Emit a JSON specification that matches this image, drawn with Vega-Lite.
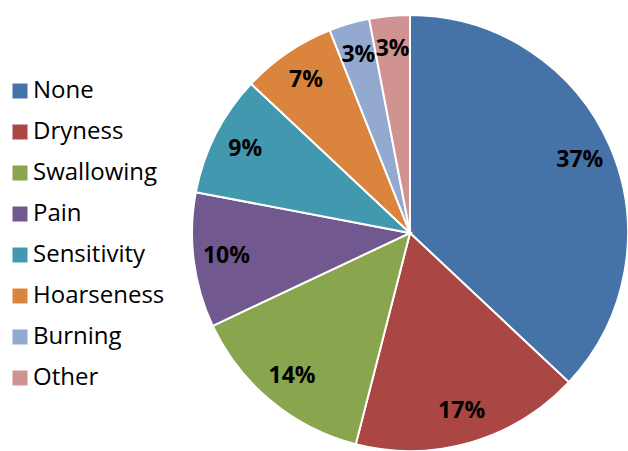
{
  "$schema": "https://vega.github.io/schema/vega-lite/v6.json",
  "width": 436,
  "height": 436,
  "autosize": "none",
  "padding": {"left": 192, "top": 15, "right": 0, "bottom": 0},
  "background": "white",
  "data": {
    "values": [
      {"category": "None", "share": 0.37, "order": 1},
      {"category": "Dryness", "share": 0.17, "order": 2},
      {"category": "Swallowing", "share": 0.14, "order": 3},
      {"category": "Pain", "share": 0.10, "order": 4},
      {"category": "Sensitivity", "share": 0.09, "order": 5},
      {"category": "Hoarseness", "share": 0.07, "order": 6},
      {"category": "Burning", "share": 0.03, "order": 7},
      {"category": "Other", "share": 0.03, "order": 8}
    ]
  },
  "encoding": {
    "theta": {"field": "share", "type": "quantitative", "stack": true},
    "order": {"field": "order", "type": "quantitative"},
    "color": {
      "field": "category",
      "type": "nominal",
      "scale": {
        "domain": ["None", "Dryness", "Swallowing", "Pain", "Sensitivity", "Hoarseness", "Burning", "Other"],
        "range": ["#4572A7", "#AA4643", "#89A54E", "#71588F", "#4198AF", "#DB843D", "#93A9CF", "#D19392"]
      },
      "legend": {
        "title": null,
        "orient": "none",
        "legendX": -184,
        "legendY": 64,
        "symbolType": "square",
        "symbolSize": 225,
        "symbolStrokeWidth": 0,
        "labelFont": "Open Sans",
        "labelFontSize": 24,
        "labelColor": "#000000",
        "labelOffset": 1,
        "rowPadding": 17,
        "padding": 0
      }
    }
  },
  "layer": [
    {
      "mark": {"type": "arc", "stroke": "white", "strokeWidth": 2}
    },
    {
      "mark": {"type": "text", "radius": 185, "font": "Open Sans", "fontSize": 23, "fontWeight": "bold"},
      "encoding": {
        "text": {"field": "share", "type": "quantitative", "format": ".0%"},
        "color": {"value": "#000000"}
      }
    }
  ]
}
